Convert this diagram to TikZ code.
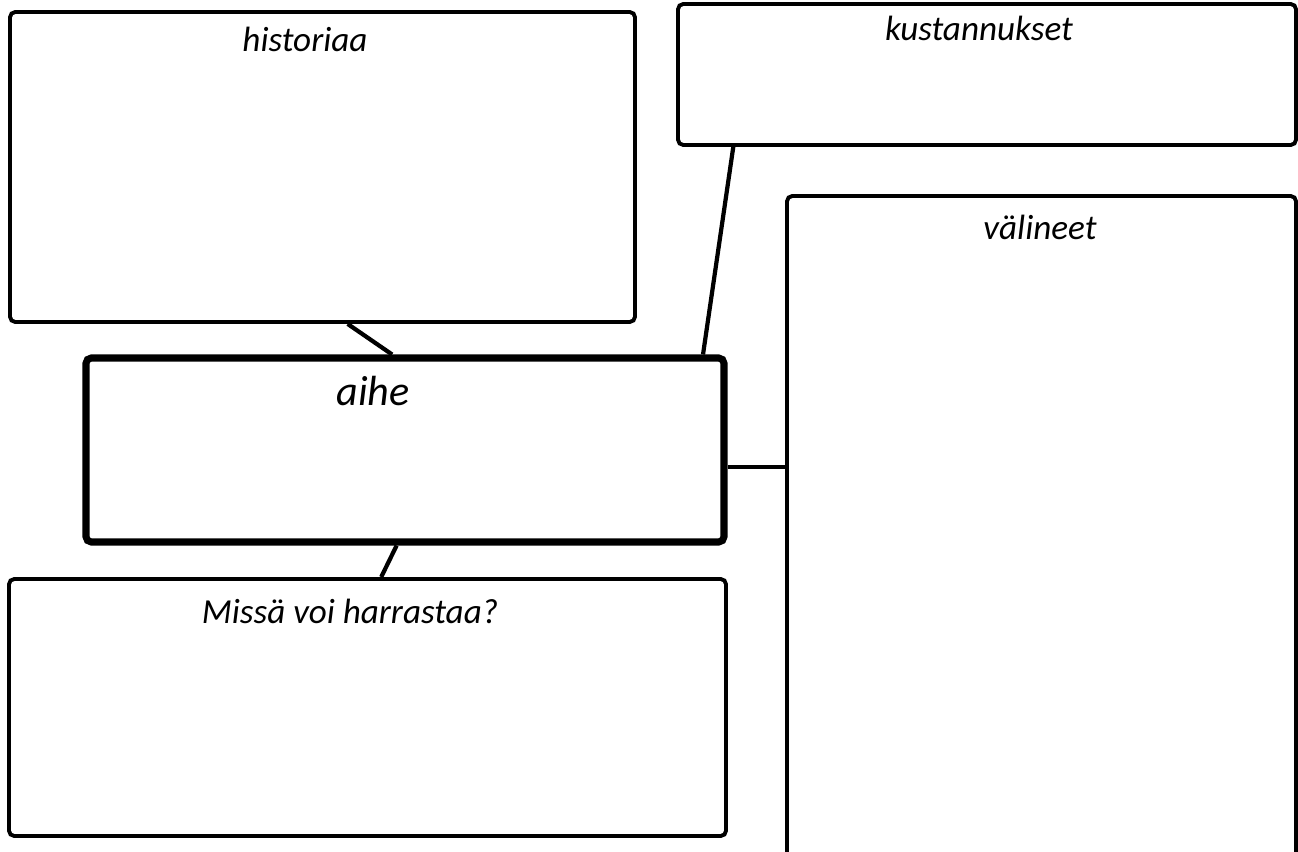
\documentclass[tikz,border=0pt]{standalone}
\usepackage{fontspec}
\setmainfont{Carlito}
\usepackage{tikz}
\usetikzlibrary{positioning, calc}

\begin{document}
\begin{tikzpicture}[
  box/.style={draw, rounded corners=3pt, line width=2.2pt, inner sep=0pt},
  mainbox/.style={box, line width=4pt},
  title/.style={anchor=base, font=\itshape\fontsize{20}{24}\selectfont},
  link/.style={line width=2.4pt}
]
  \useasboundingbox (0,0) rectangle (25.96,-17.04);
  \clip (0,0) rectangle (25.96,-17.04);

  % boxes
  \node[box, minimum width=12.5cm, minimum height=6.2cm] (hist) at (6.45,-3.34) {};
  \node[box, minimum width=12.36cm, minimum height=2.82cm] (kust) at (19.74,-1.49) {};
  \node[box, minimum width=10.18cm, minimum height=14.6cm] (vali) at (20.83,-11.22) {};
  \node[mainbox, minimum width=12.76cm, minimum height=3.68cm] (aihe) at (8.1,-9.0) {};
  \node[box, minimum width=14.34cm, minimum height=5.14cm] (missa) at (7.35,-14.15) {};

  % titles
  \node[title] (histT) at (6.1,-1.04) {historiaa};
  \node[title] (kustT) at (19.58,-0.82) {kustannukset};
  \node[title] (valiT) at (20.8,-4.8) {välineet};
  \node[title, font=\itshape\fontsize{24}{28}\selectfont] (aiheT) at (7.46,-8.1) {aihe};
  \node[title] (missaT) at (7.0,-12.46) {Missä voi harrastaa?};

  % links
  \draw[link] ($(hist.south west)!0.54!(hist.south east)$) -- ($(aihe.north west)!0.48!(aihe.north east)$);
  \draw[link] ($(kust.south west)!0.092!(kust.south east)$) -- ($(aihe.north west)!0.962!(aihe.north east)$);
  \draw[link] ($(aihe.south west)!0.487!(aihe.south east)$) -- ($(missa.north west)!0.519!(missa.north east)$);
  \coordinate (aiheR) at ($(aihe.north east)!0.587!(aihe.south east)$);
  \draw[link] (aiheR) -- (aiheR -| vali.west);
\end{tikzpicture}
\end{document}
